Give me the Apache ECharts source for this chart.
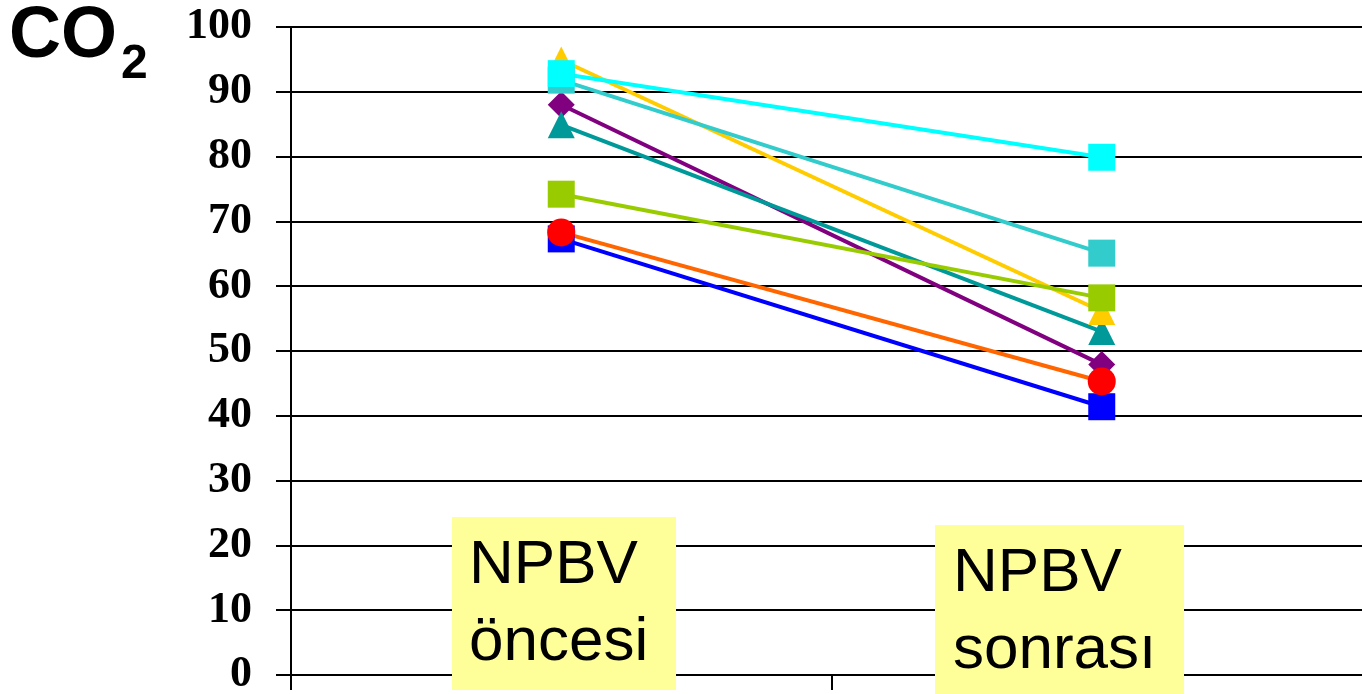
<!DOCTYPE html>
<html>
<head>
<meta charset="utf-8">
<script src="https://cdn.jsdelivr.net/npm/echarts@6/dist/echarts.min.js"></script>
<style>
html,body{margin:0;padding:0;background:#fff;}
#main{width:1362px;height:694px;}
</style>
</head>
<body>
<div id="main"></div>
<script>
var categories = ['NPBV\nöncesi', 'NPBV\nsonrası'];
var yTicks = [0, 10, 20, 30, 40, 50, 60, 70, 80, 90, 100];
var sBlue = [67.3, 41.4];
var sPurple = [88.0, 47.9];
var sRed = [68.3, 45.3];
var sTeal = [84.9, 53.0];
var sGold = [94.9, 56.1];
var sLime = [74.2, 58.2];
var sTurq = [91.8, 65.1];
var sCyan = [92.8, 79.9];

var chart = echarts.init(document.getElementById('main'));

function mk(data, lineColor, markColor, symbol, size) {
  return {
    type: 'line',
    data: data,
    symbol: symbol,
    symbolSize: size,
    lineStyle: { color: lineColor, width: 4 },
    itemStyle: { color: markColor },
    emphasis: { disabled: true },
    silent: true
  };
}

var option = {
  animation: false,
  grid: { left: 291, width: 1081, top: 27, height: 648, containLabel: false, outerBoundsMode: 'none' },
  xAxis: {
    type: 'category',
    data: categories,
    boundaryGap: true,
    axisLine: { show: true, lineStyle: { color: '#000', width: 2 } },
    axisTick: { show: true, length: 15, lineStyle: { color: '#000', width: 2 } },
    axisLabel: { show: false },
    splitLine: { show: false }
  },
  yAxis: {
    type: 'value',
    min: yTicks[0],
    max: yTicks[yTicks.length - 1],
    interval: yTicks[1] - yTicks[0],
    axisLine: { show: true, lineStyle: { color: '#000', width: 2 } },
    axisTick: { show: true, length: 15, lineStyle: { color: '#000', width: 2 } },
    axisLabel: {
      margin: 39,
      color: '#000',
      fontFamily: 'Liberation Serif',
      fontWeight: 'bold',
      fontSize: 44
    },
    splitLine: { show: true, lineStyle: { color: '#000', width: 2 } }
  },
  series: [
    mk(sBlue, '#0000FF', '#0000FF', 'rect', 27),
    mk(sPurple, '#800080', '#800080', 'diamond', 27),
    mk(sRed, '#FF6600', '#FF0000', 'circle', 28),
    mk(sTeal, '#009999', '#009999', 'triangle', 27),
    mk(sGold, '#FFCC00', '#FFCC00', 'triangle', 27),
    mk(sLime, '#99CC00', '#99CC00', 'rect', 27),
    mk(sTurq, '#33CCCC', '#33CCCC', 'rect', 27),
    mk(sCyan, '#00FFFF', '#00FFFF', 'rect', 27)
  ],
  graphic: [
    { type: 'text', z: 100, x: 9, y: 37,
      style: { text: 'CO', fill: '#000', font: 'bold 72px "Liberation Sans"', verticalAlign: 'middle' } },
    { type: 'text', z: 100, x: 121, y: 65,
      style: { text: '2', fill: '#000', font: 'bold 48px "Liberation Sans"', verticalAlign: 'middle' } },
    { type: 'rect', z: 100, shape: { x: 452, y: 517, width: 224, height: 173 }, style: { fill: '#FFFF99' } },
    { type: 'text', z: 101, x: 469, y: 604,
      style: { text: categories[0], fill: '#000', font: '62px "Liberation Sans"', lineHeight: 77, verticalAlign: 'middle' } },
    { type: 'rect', z: 100, shape: { x: 935, y: 525, width: 249, height: 175 }, style: { fill: '#FFFF99' } },
    { type: 'text', z: 101, x: 953, y: 612,
      style: { text: categories[1], fill: '#000', font: '62px "Liberation Sans"', lineHeight: 77, verticalAlign: 'middle' } }
  ]
};
chart.setOption(option);
</script>
</body>
</html>
